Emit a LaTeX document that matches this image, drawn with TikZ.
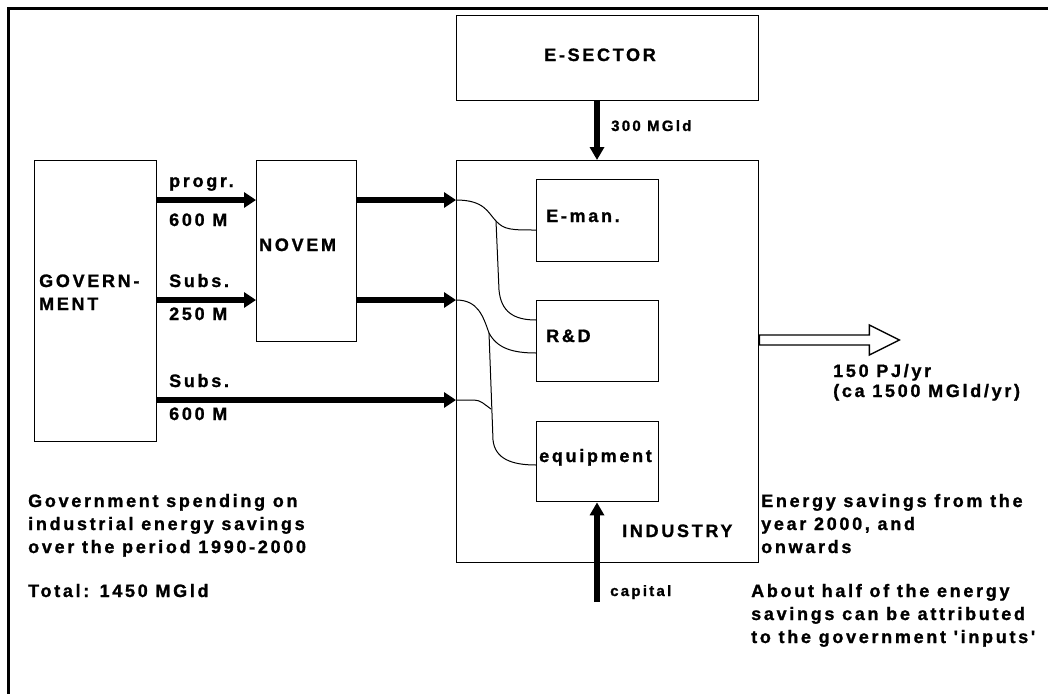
\documentclass[tikz,border=0pt]{standalone}
\usepackage{fontspec}
\newfontfamily\lbl{Liberation Sans}[LetterSpace=15, BoldFeatures={FakeBold=1.2}]
\usetikzlibrary{arrows.meta}
\tikzset{
  box/.style={draw, line width=1.4pt, inner sep=0pt, anchor=north west},
  txt/.style={anchor=base west, inner sep=0pt, font=\lbl\bfseries\fontsize{18}{20}\selectfont},
  ctxt/.style={txt, anchor=base},
  smalltxt/.style={txt, font=\lbl\bfseries\fontsize{15}{17}\selectfont},
  fat/.style={line width=5.5pt, -{Triangle[length=12pt,width=15pt]}},
  fatv/.style={line width=6.5pt, -{Triangle[length=13pt,width=14pt]}},
  thin/.style={line width=1pt},
  hollow/.style={line width=1.4pt, fill=white, line join=miter},
  frame/.style={line width=3pt}
}
\begin{document}
\begin{tikzpicture}[x=1pt,y=-1pt]
\useasboundingbox (0,0) rectangle (1048,693);
% outer frame
\coordinate (fbl) at (8,694);
\coordinate (ftl) at (8,9);
\coordinate (ftr) at (1049,9);
\draw[frame] (fbl) -- (ftl) -- (ftr);

% boxes
\node[box, minimum width=302pt, minimum height=85pt] (esec) at (456,15) {};
\node[box, minimum width=302pt, minimum height=402pt] (ind) at (456,160) {};
\node[box, minimum width=122pt, minimum height=281pt] (gov) at (34,160) {};
\node[box, minimum width=100pt, minimum height=181pt] (novem) at (256,160) {};
\node[box, minimum width=122pt, minimum height=82pt] (eman) at (536,179) {};
\node[box, minimum width=122pt, minimum height=81pt] (rnd) at (536,300) {};
\node[box, minimum width=122pt, minimum height=80pt] (equip) at (536,421) {};

% box texts
\node[ctxt] (tesec) at (600,61) {E-SECTOR};
\node[txt] (tnovem) at (259,251) {NOVEM};
\node[txt] (tgov1) at (39,287) {GOVERN-};
\node[txt] (tgov2) at (39,310) {MENT};
\node[txt] (teman) at (546,222) {E-man.};
\node[txt] (trnd) at (546,342) {R\&D};
\node[txt] (tequip) at (539,462) {equipment};
\node[txt] (tind) at (622,537) {INDUSTRY};

% rows
\coordinate (r1) at (0,200);
\coordinate (r2) at (0,300);
\coordinate (r3) at (0,400);
\coordinate (cx) at (597,0);

% thick arrows
\draw[fat] (gov.east |- r1) -- (novem.west |- r1);
\draw[fat] (gov.east |- r2) -- (novem.west |- r2);
\draw[fat] (novem.east |- r1) -- (ind.west |- r1);
\draw[fat] (novem.east |- r2) -- (ind.west |- r2);
\draw[fat] (gov.east |- r3) -- (ind.west |- r3);
\draw[fatv] (esec.south -| cx) -- (ind.north -| cx);
\coordinate (capfoot) at (597,602);
\draw[fatv] (capfoot) -- (equip.south -| capfoot);

% arrow labels
\node[txt] (lprogr) at (169,187) {progr.};
\node[txt] (l600a) at (169,226) {600 M};
\node[txt] (lsubs1) at (169,287) {Subs.};
\node[txt] (l250) at (169,320) {250 M};
\node[txt] (lsubs2) at (169,387) {Subs.};
\node[txt] (l600b) at (169,420) {600 M};
\node[smalltxt] (l300) at (611,131) {300 MGld};
\node[smalltxt] (lcap) at (610,596) {capital};

% thin distribution lines inside industry
\coordinate (j1) at (496,221);
\coordinate (j1b) at (499,290);
\coordinate (j2) at (489,333);
\coordinate (j2b) at (493,440);
\coordinate (j3) at (491,409);
\coordinate (k3) at (474,400);
\draw[thin] (ind.west |- r1) .. controls (485,200) and (488,213) .. (j1)
  .. controls (504,230) and (512,230) .. (eman.west |- 0,230);
\draw[thin] (j1) -- (j1b) .. controls (501,312) and (514,320) .. (rnd.west |- 0,320);
\draw[thin] (ind.west |- r2) .. controls (478,300) and (483,316) .. (j2)
  .. controls (497,348) and (512,353) .. (rnd.west |- 0,353);
\draw[thin] (j2) -- (j2b) .. controls (495,459) and (512,465) .. (equip.west |- 0,465);
\draw[thin] (ind.west |- r3) -- (k3) .. controls (481,400) and (485,405) .. (j3);

% hollow output arrow
\coordinate (h1) at (0,335);
\draw[hollow] (ind.east |- h1) -- ++(110,0) -- ++(0,-10) -- ++(30,15) -- ++(-30,15) -- ++(0,-10) -- ++(-110,0) -- cycle;
\node[txt] (lpj) at (833,377) {150 PJ/yr};
\node[txt] (lmgld) at (833,397) {(ca 1500 MGld/yr)};

% notes
\node[txt] (n1) at (28,507) {Government spending on};
\node[txt] (n2) at (28,530) {industrial energy savings};
\node[txt] (n3) at (28,553) {over the period 1990-2000};
\node[txt] (n4) at (28,597) {Total: 1450 MGld};
\node[txt] (e1) at (761,507) {Energy savings from the};
\node[txt] (e2) at (761,530) {year 2000, and};
\node[txt] (e3) at (761,553) {onwards};
\node[txt] (a1) at (751,597) {About half of the energy};
\node[txt] (a2) at (751,620) {savings can be attributed};
\node[txt] (a3) at (751,643) {to the government 'inputs'};
\end{tikzpicture}
\end{document}
